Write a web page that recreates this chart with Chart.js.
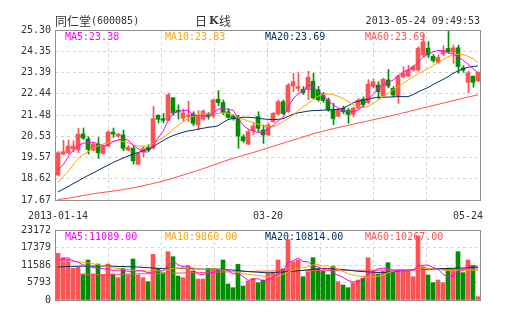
<!DOCTYPE html>
<html>
<head>
<meta charset="utf-8">
<script src="https://cdn.jsdelivr.net/npm/chart.js@4.4.0/dist/chart.umd.min.js"></script>
<style>
  body { margin: 0; background: #fff; }
  #wrap { position: relative; width: 505px; height: 330px; }
  canvas { position: absolute; left: 0; }
  #kline { top: 0; }
  #vol { top: 200px; }
</style>
</head>
<body>
<div id="wrap">
  <canvas id="kline" width="505" height="220"></canvas>
  <canvas id="vol" width="505" height="110"></canvas>
</div>
<script>
// daily candles, 2013-01-14 .. 2013-05-24
const opens = [18.79, 19.73, 19.79, 19.97, 19.91, 20.63, 20.41, 19.91, 20.18, 19.76, 20.09, 20.72, 20.54, 20.59, 19.91, 19.99, 19.27, 19.82, 20.02, 20.00, 21.47, 21.32, 21.25, 22.26, 21.70, 21.34, 21.42, 21.53, 21.04, 21.30, 21.50, 21.44, 22.19, 22.04, 21.63, 21.44, 21.33, 20.51, 20.18, 20.78, 21.41, 20.81, 20.59, 21.19, 21.53, 22.08, 21.63, 22.79, 22.68, 22.64, 22.62, 23.00, 22.62, 22.40, 22.17, 21.72, 21.43, 21.79, 21.70, 21.52, 21.79, 22.20, 22.05, 22.76, 22.83, 22.34, 23.06, 22.68, 22.35, 23.20, 23.24, 23.50, 23.51, 24.18, 24.48, 24.12, 23.85, 24.22, 24.47, 24.30, 24.50, 23.60, 22.95, 23.23, 23.02];
const closes = [19.79, 19.84, 20.09, 20.09, 20.63, 20.45, 19.94, 20.18, 19.79, 20.09, 20.72, 20.63, 20.63, 19.99, 20.03, 19.43, 19.76, 19.98, 19.92, 21.32, 21.29, 21.25, 22.39, 21.57, 21.62, 21.58, 21.48, 21.11, 21.41, 21.66, 21.40, 22.16, 22.04, 21.59, 21.38, 21.32, 20.54, 20.33, 20.74, 20.99, 20.89, 20.59, 21.04, 21.56, 22.08, 21.56, 22.83, 22.98, 22.76, 22.49, 23.18, 22.25, 22.17, 22.13, 21.72, 21.33, 21.73, 21.63, 21.51, 21.79, 22.16, 21.95, 22.87, 22.98, 22.53, 23.09, 22.79, 22.38, 23.23, 23.35, 23.50, 23.65, 24.48, 24.78, 24.18, 23.93, 24.07, 24.38, 24.32, 24.50, 23.66, 23.50, 23.38, 22.95, 23.40];
const highs = [19.84, 20.36, 20.36, 20.32, 20.89, 20.90, 20.51, 20.24, 20.47, 20.14, 20.78, 20.90, 20.66, 20.81, 20.12, 20.09, 19.79, 20.08, 20.15, 21.87, 21.50, 21.55, 22.47, 22.26, 21.94, 21.75, 22.10, 21.63, 21.68, 21.72, 21.60, 22.20, 22.58, 22.16, 21.78, 21.50, 21.48, 20.60, 20.81, 21.11, 21.63, 21.04, 21.11, 21.60, 22.16, 22.16, 22.90, 23.36, 23.39, 22.76, 23.45, 23.36, 22.77, 22.50, 22.25, 22.01, 21.80, 21.88, 21.78, 21.85, 22.22, 22.30, 23.07, 23.10, 22.98, 23.14, 23.53, 22.76, 23.28, 23.65, 23.72, 23.72, 24.55, 25.09, 24.78, 24.20, 24.18, 24.60, 25.28, 24.62, 24.62, 23.70, 23.45, 23.23, 23.42];
const lows = [18.75, 19.69, 19.73, 19.84, 19.79, 20.39, 19.73, 19.88, 19.54, 19.72, 20.06, 20.48, 20.48, 19.88, 19.88, 19.29, 19.27, 19.59, 19.85, 19.97, 21.13, 21.13, 21.23, 21.47, 21.30, 21.20, 21.19, 21.00, 20.81, 21.25, 21.30, 21.35, 21.90, 21.50, 21.33, 21.25, 19.99, 20.25, 20.15, 20.59, 20.74, 20.21, 20.55, 21.15, 21.50, 21.50, 21.60, 22.53, 22.53, 22.40, 22.17, 22.20, 22.10, 22.05, 21.65, 21.05, 21.40, 21.55, 21.11, 21.40, 21.75, 21.85, 22.00, 22.70, 22.23, 22.30, 22.70, 22.30, 22.01, 23.15, 23.20, 23.45, 23.45, 24.10, 24.05, 23.85, 23.80, 24.15, 24.25, 23.80, 23.36, 23.40, 22.48, 22.73, 22.98];

// moving averages as plotted
const ma5 = [19.02, 19.24, 19.60, 19.90, 20.09, 20.22, 20.24, 20.26, 20.20, 20.09, 20.14, 20.28, 20.37, 20.41, 20.36, 20.14, 19.97, 19.84, 19.82, 20.08, 20.45, 20.75, 21.23, 21.56, 21.63, 21.69, 21.70, 21.50, 21.45, 21.45, 21.43, 21.56, 21.75, 21.78, 21.73, 21.70, 21.37, 21.03, 20.86, 20.78, 20.70, 20.71, 20.85, 21.01, 21.23, 21.37, 21.81, 22.20, 22.44, 22.52, 22.85, 22.75, 22.55, 22.40, 22.15, 21.95, 21.80, 21.70, 21.63, 21.63, 21.70, 21.90, 22.18, 22.40, 22.65, 22.85, 22.95, 23.05, 23.25, 23.42, 23.50, 23.63, 23.85, 24.07, 24.23, 24.32, 24.38, 24.37, 24.29, 24.22, 24.10, 23.95, 23.77, 23.57, 23.38];
const ma10 = [18.45, 18.72, 18.94, 19.24, 19.54, 19.69, 19.84, 19.99, 20.09, 20.18, 20.24, 20.30, 20.33, 20.29, 20.24, 20.14, 20.09, 20.09, 20.09, 20.21, 20.33, 20.48, 20.63, 20.83, 21.02, 21.18, 21.32, 21.43, 21.51, 21.55, 21.56, 21.55, 21.55, 21.58, 21.57, 21.50, 21.38, 21.30, 21.22, 21.15, 21.07, 21.00, 20.95, 20.96, 21.05, 21.18, 21.33, 21.48, 21.67, 21.85, 22.00, 22.18, 22.33, 22.40, 22.43, 22.40, 22.33, 22.22, 22.10, 21.96, 21.85, 21.81, 21.87, 22.00, 22.15, 22.30, 22.45, 22.60, 22.75, 22.90, 23.05, 23.20, 23.33, 23.45, 23.57, 23.71, 23.85, 23.97, 24.10, 24.20, 24.21, 24.20, 24.12, 24.01, 23.83];
const ma20 = [18.03, 18.15, 18.27, 18.40, 18.52, 18.65, 18.77, 18.88, 19.00, 19.12, 19.23, 19.35, 19.45, 19.55, 19.64, 19.73, 19.80, 19.87, 19.95, 20.05, 20.20, 20.33, 20.46, 20.56, 20.64, 20.71, 20.77, 20.80, 20.85, 20.89, 20.93, 20.96, 21.00, 21.15, 21.28, 21.33, 21.36, 21.38, 21.38, 21.37, 21.34, 21.31, 21.29, 21.28, 21.29, 21.32, 21.42, 21.52, 21.58, 21.62, 21.66, 21.68, 21.69, 21.70, 21.71, 21.72, 21.74, 21.78, 21.90, 22.03, 22.10, 22.16, 22.19, 22.25, 22.28, 22.28, 22.29, 22.30, 22.31, 22.31, 22.31, 22.40, 22.52, 22.62, 22.72, 22.85, 22.97, 23.08, 23.20, 23.35, 23.46, 23.55, 23.63, 23.66, 23.69];
const ma60 = [17.69, 17.72, 17.75, 17.79, 17.83, 17.87, 17.91, 17.95, 17.98, 18.01, 18.04, 18.07, 18.10, 18.14, 18.18, 18.22, 18.26, 18.31, 18.36, 18.41, 18.46, 18.52, 18.58, 18.65, 18.72, 18.79, 18.86, 18.93, 19.00, 19.08, 19.15, 19.23, 19.31, 19.39, 19.47, 19.54, 19.60, 19.67, 19.73, 19.80, 19.87, 19.94, 20.01, 20.08, 20.15, 20.22, 20.29, 20.36, 20.43, 20.50, 20.57, 20.64, 20.70, 20.76, 20.82, 20.87, 20.92, 20.97, 21.02, 21.07, 21.12, 21.17, 21.22, 21.27, 21.32, 21.37, 21.42, 21.47, 21.52, 21.58, 21.63, 21.69, 21.74, 21.80, 21.85, 21.91, 21.96, 22.02, 22.07, 22.13, 22.18, 22.24, 22.29, 22.34, 22.39];

// turnover (hands) and its averages
const volumes = [15450, 14010, 13460, 10480, 10810, 8610, 13240, 8610, 11920, 8280, 11920, 8610, 7390, 10480, 8280, 13570, 8280, 7390, 6070, 15120, 10480, 9000, 16000, 14340, 7940, 7390, 11260, 9600, 6950, 6950, 10480, 10260, 10260, 13240, 5300, 4080, 11810, 4630, 6290, 7170, 5740, 6620, 8830, 9050, 13240, 10260, 20030, 12690, 13240, 7720, 9380, 14010, 10400, 9490, 8380, 11200, 6070, 4970, 4080, 5740, 6620, 7170, 14010, 9600, 8610, 9600, 12360, 9380, 9930, 9930, 9600, 7720, 21190, 11030, 8280, 5740, 6620, 5740, 10480, 10480, 16000, 9050, 13240, 11260, 1100];
const volMa5 = [12900, 13700, 14000, 13000, 12500, 11600, 11300, 10700, 10700, 10300, 10300, 9800, 9900, 9900, 9500, 9500, 9700, 9600, 9000, 9300, 9400, 9700, 11300, 12800, 11700, 11000, 11400, 10100, 8600, 8400, 9000, 9100, 9600, 10100, 9900, 8600, 8900, 7800, 6500, 6800, 7100, 6100, 6900, 7500, 8700, 9600, 12300, 13000, 13900, 12800, 12600, 11400, 10900, 10200, 10300, 9000, 8200, 7500, 6500, 6000, 6000, 7200, 8500, 9400, 10300, 10500, 10500, 9800, 9800, 9700, 9500, 10000, 11300, 11500, 11600, 10800, 10200, 8500, 7700, 8000, 9700, 10000, 11000, 11500, 11089];
const volMa10 = [12600, 12700, 12800, 12700, 12600, 12500, 12300, 12000, 11600, 11300, 11000, 10700, 10400, 10300, 10100, 9900, 9800, 9700, 9600, 9600, 9600, 9700, 10200, 10500, 10500, 10600, 10500, 10600, 10400, 10100, 10200, 10300, 10200, 9900, 9500, 9400, 9100, 8700, 8500, 8300, 8100, 7900, 7600, 7500, 7800, 8500, 9300, 9800, 10400, 10700, 11000, 11600, 11700, 11200, 11300, 10900, 10200, 9500, 8700, 8300, 8000, 7700, 7600, 7700, 7900, 8200, 9000, 9500, 9800, 9900, 9900, 9900, 10100, 10300, 10500, 10300, 10200, 9900, 9700, 9700, 9800, 9800, 9900, 9900, 9860];
const volMa20 = [10900, 11000, 11100, 11100, 11200, 11200, 11200, 11200, 11300, 11200, 11200, 11200, 11100, 11100, 11000, 11000, 10900, 10800, 10700, 10600, 10500, 10400, 10500, 10500, 10500, 10500, 10400, 10400, 10300, 10200, 10200, 10300, 10200, 10100, 10000, 9900, 9800, 9600, 9400, 9300, 9200, 9100, 9000, 9100, 9200, 9300, 9400, 9500, 9700, 9800, 10000, 10200, 10300, 10400, 10400, 10300, 10200, 10100, 9900, 9700, 9500, 9400, 9300, 9200, 9100, 9000, 9200, 9400, 9600, 9800, 9900, 10000, 10100, 10200, 10300, 10300, 10400, 10400, 10500, 10500, 10600, 10600, 10700, 10800, 10814];
const volMa60 = [8100, 8150, 8200, 8250, 8280, 8320, 8350, 8370, 8380, 8400, 8430, 8460, 8500, 8530, 8560, 8600, 8640, 8680, 8700, 8730, 8760, 8800, 8850, 8880, 8910, 8940, 8980, 9020, 9060, 9100, 9150, 9200, 9240, 9280, 9320, 9350, 9380, 9420, 9460, 9500, 9530, 9570, 9600, 9620, 9640, 9660, 9690, 9710, 9730, 9750, 9760, 9770, 9780, 9790, 9800, 9810, 9815, 9820, 9825, 9830, 9840, 9850, 9860, 9870, 9880, 9900, 9920, 9940, 9960, 9980, 10000, 10020, 10030, 10040, 10050, 10060, 10080, 10100, 10120, 10140, 10160, 10190, 10220, 10240, 10267];

const priceTicks = [17.67, 18.62, 19.57, 20.53, 21.48, 22.44, 23.39, 24.35, 25.30];
const volTicks = [0, 5793, 11586, 17379, 23172];
const dateLabels = ['2013-01-14', '03-20', '05-24'];
const dateIndex = [0, 42, 84];
const maNames = ['MA5', 'MA10', 'MA20', 'MA60'];
const priceMaText = ['23.38', '23.83', '23.69', '23.69'];
const volMaText = ['11089.00', '9860.00', '10814.00', '10267.00'];

const UP = '#ff5252';
const DOWN = '#008f00';
const maColors = ['#ff00ff', '#ffa500', '#003366', '#ff5252'];
const GRID = '#d4d4d4';
const TEXT = '#333333';
const MONO = '"DejaVu Sans Mono", "Liberation Mono", monospace';
const CJK = '"Noto Sans CJK SC", sans-serif';

const candleColors = closes.map((c, i) => (c >= opens[i] ? UP : DOWN));
const pts = arr => arr.map((v, i) => ({ x: i, y: v }));

function maLine(data, k) {
  return {
    type: 'line', data: pts(data), borderColor: maColors[k], borderWidth: 1,
    pointRadius: 0, tension: 0, order: 1
  };
}

// x axis only carries the dashed vertical grid (8 equal parts)
function gridX() {
  return {
    type: 'linear', min: -0.6, max: 84.4, offset: false,
    grid: { color: GRID, drawTicks: false, offset: false },
    border: { display: false, dash: [3, 3] },
    ticks: { display: false },
    afterBuildTicks: s => {
      s.ticks = Array.from({ length: 9 }, (_, k) => ({ value: s.min + k * (s.max - s.min) / 8 }));
    }
  };
}

function valueAxis(min, max, ticks, fmt) {
  return {
    min: min, max: max,
    afterFit: s => { s.width = 55; },
    afterBuildTicks: s => { s.ticks = ticks.map(v => ({ value: v })); },
    grid: { color: GRID, drawTicks: false },
    border: { display: false, dash: [3, 3] },
    ticks: { font: { family: MONO, size: 10 }, color: TEXT, padding: 4, callback: fmt }
  };
}

// frame around the plot and the MA captions under the marks
const panelDeco = {
  id: 'panelDeco',
  beforeDatasetsDraw(chart, args, opts) {
    const { ctx, chartArea: a } = chart;
    ctx.save();
    ctx.font = '10px ' + MONO;
    ctx.textBaseline = 'middle';
    opts.texts.forEach((t, k) => {
      ctx.fillStyle = maColors[k];
      ctx.fillText(maNames[k] + ':' + t, a.left + 10 + k * 100, a.top + 7);
    });
    ctx.restore();
  },
  afterDraw(chart) {
    const { ctx, chartArea: a } = chart;
    ctx.save();
    ctx.strokeStyle = '#8f8f8f';
    ctx.lineWidth = 1;
    ctx.strokeRect(a.left + 0.5, a.top + 0.5, a.right - a.left, a.bottom - a.top);
    ctx.restore();
  }
};

// title row and date labels of the K-line panel
const header = {
  id: 'header',
  afterDraw(chart) {
    const { ctx, chartArea: a } = chart;
    const x = chart.scales.x;
    ctx.save();
    ctx.fillStyle = TEXT;
    ctx.textBaseline = 'middle';
    ctx.font = '12px ' + CJK;
    ctx.fillText('同仁堂', a.left, 21);
    const w = ctx.measureText('同仁堂').width;
    ctx.font = '10px ' + MONO;
    ctx.fillText('(600085)', a.left + w, 21);

    // 日 K 线 : the K is set bold
    ctx.font = '12px ' + CJK;
    ctx.fillText('日', 195, 21);
    ctx.font = 'bold 11px "DejaVu Serif"';
    ctx.fillText('K', 209, 21);
    ctx.font = '12px ' + CJK;
    ctx.fillText('线', 219, 21);

    ctx.font = '10px ' + MONO;
    ctx.textAlign = 'right';
    ctx.fillText('2013-05-24 09:49:53', a.right, 21);
    dateLabels.forEach((d, k) => {
      const last = k === dateLabels.length - 1;
      ctx.textAlign = last ? 'right' : 'center';
      ctx.fillText(d, last ? a.right + 3 : x.getPixelForValue(dateIndex[k]), 216);
    });
    ctx.restore();
  }
};

new Chart(document.getElementById('kline'), {
  type: 'bar',
  data: {
    datasets: [
      maLine(ma5, 0), maLine(ma10, 1), maLine(ma20, 2), maLine(ma60, 3),
      {
        label: 'body', data: opens.map((o, i) => ({ x: i, y: [o, closes[i]] })),
        backgroundColor: candleColors, barThickness: 4, minBarLength: 1,
        grouped: false, order: 2
      },
      {
        label: 'wick', data: lows.map((l, i) => ({ x: i, y: [l, highs[i]] })),
        backgroundColor: candleColors, barThickness: 1, grouped: false,
        xAxisID: 'xw', order: 3
      }
    ]
  },
  options: {
    responsive: false, animation: false, devicePixelRatio: 1,
    layout: { padding: { top: 30, right: 25, left: 0, bottom: 0 } },
    plugins: {
      legend: { display: false }, tooltip: { enabled: false },
      panelDeco: { texts: priceMaText }
    },
    scales: {
      x: Object.assign(gridX(), { afterFit: s => { s.height = 20; } }),
      xw: { type: 'linear', display: false, min: -0.7, max: 84.3, offset: false },
      y: valueAxis(17.67, 25.30, priceTicks, v => v.toFixed(2))
    }
  },
  plugins: [panelDeco, header]
});

new Chart(document.getElementById('vol'), {
  type: 'bar',
  data: {
    datasets: [
      maLine(volMa5, 0), maLine(volMa10, 1), maLine(volMa20, 2), maLine(volMa60, 3),
      {
        label: 'volume', data: pts(volumes),
        backgroundColor: candleColors, barThickness: 4, grouped: false, order: 2
      }
    ]
  },
  options: {
    responsive: false, animation: false, devicePixelRatio: 1,
    layout: { padding: { top: 30, right: 25, left: 0, bottom: 10 } },
    plugins: {
      legend: { display: false }, tooltip: { enabled: false },
      panelDeco: { texts: volMaText }
    },
    scales: {
      x: Object.assign(gridX(), { afterFit: s => { s.height = 0; } }),
      y: valueAxis(0, 23172, volTicks, v => String(v))
    }
  },
  plugins: [panelDeco]
});
</script>
</body>
</html>
